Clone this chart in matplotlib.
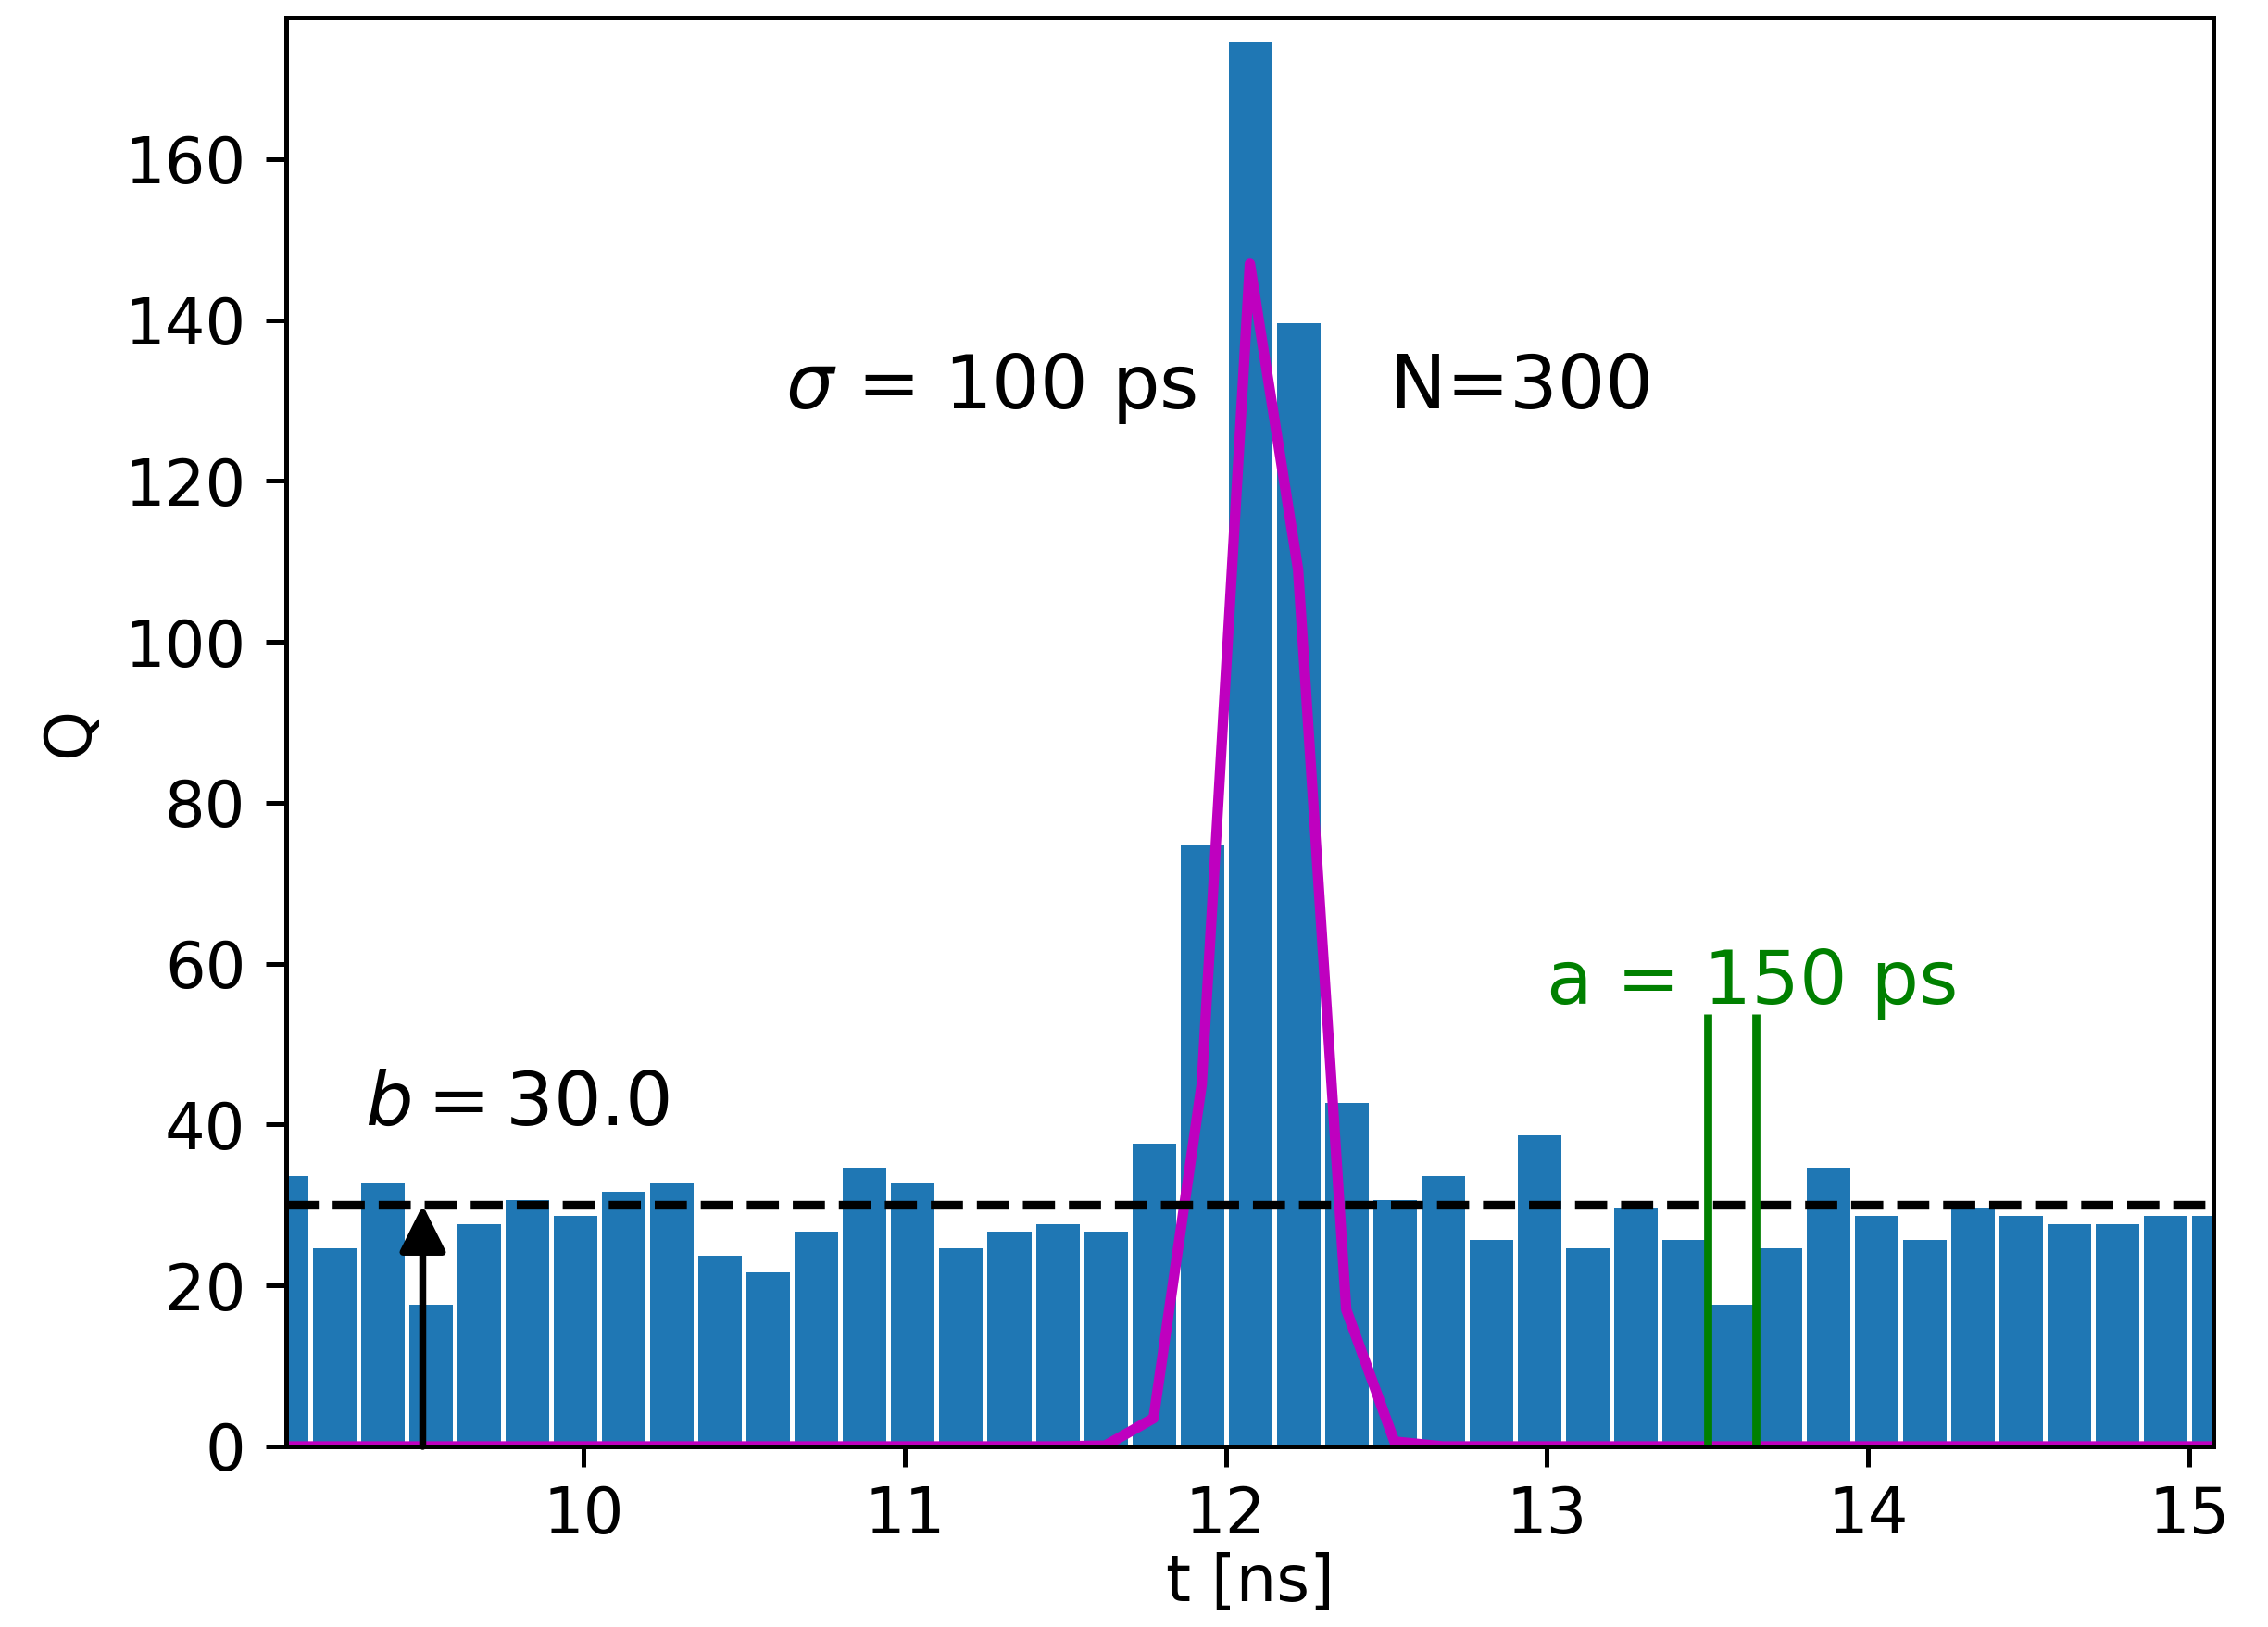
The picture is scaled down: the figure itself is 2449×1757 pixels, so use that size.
import matplotlib
matplotlib.use("Agg")
import matplotlib.pyplot as plt
import numpy as np

# histogram bins (left edges, ns) and counts
bin_start = 9.0
bin_width = 0.15
counts = [34, 25, 33, 18, 28, 31, 29, 32, 33, 24,
          22, 27, 35, 33, 25, 27, 28, 27, 38, 75,
          175, 140, 43, 31, 34, 26, 39, 25, 30, 26,
          18, 25, 35, 29, 26, 30, 29, 28, 28, 29,
          29]

# fitted pulse evaluated at the bin centres
pulse = [0, 0, 0, 0, 0, 0, 0, 0, 0, 0,
         0, 0, 0, 0, 0, 0, 0, 0.1, 3.5, 45,
         147, 109, 17, 0.6, 0, 0, 0, 0, 0, 0,
         0, 0, 0, 0, 0, 0, 0, 0, 0, 0,
         0]

baseline = 30.0
a_lines = [13.5, 13.65]

edges = bin_start + bin_width * np.arange(len(counts))
centres = edges + bin_width / 2

plt.rcParams['font.size'] = 11

dpi = 450
fig = plt.figure(figsize=(2449 / dpi, 1757 / dpi), dpi=dpi)
ax = fig.add_axes([0.1262, 0.111, 0.8498, 0.8782])

ax.bar(edges, counts, width=bin_width, align='edge', color='C0',
       edgecolor='white', linewidth=0.8)
ax.plot(centres, pulse, color='m', lw=1.8)
ax.axhline(baseline, color='k', ls='--', lw=1.5)

# background arrow
ax.annotate('', xy=(9.5, baseline), xytext=(9.5, 0),
            arrowprops=dict(arrowstyle='-|>,head_length=0.4,head_width=0.2',
                            color='k', lw=1.2, shrinkA=0, shrinkB=0,
                            mutation_scale=17))
ax.text(9.32, 40, r'$b = 30.0$', fontsize=13)

# width markers
ax.vlines(a_lines, 0, 53.7, color='g', lw=1.4)
ax.text(13.0, 55, 'a = 150 ps', color='g', fontsize=13)

ax.text(10.63, 129, r'$\sigma$ = 100 ps', fontsize=13)
ax.text(12.51, 129, 'N=300', fontsize=13)

ax.set_xlim(centres[0], centres[-1])
ax.set_ylim(0, 177.6)
ax.set_xticks([10, 11, 12, 13, 14, 15])
ax.set_yticks(np.arange(0, 161, 20))
ax.tick_params(axis='x', pad=3)
ax.set_xlabel('t [ns]', labelpad=1)
ax.set_ylabel('Q')

fig.savefig('out.png', dpi=dpi)
